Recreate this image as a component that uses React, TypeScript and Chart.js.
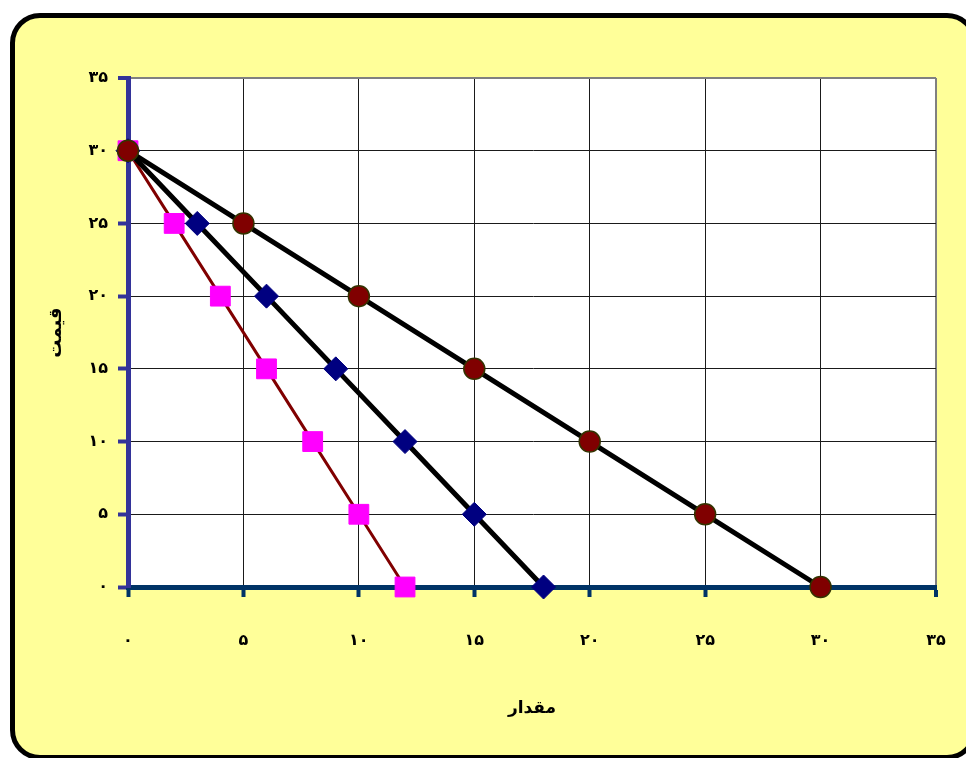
import React, { useEffect, useRef } from 'react';
import { Chart, registerables } from 'chart.js';

Chart.register(...registerables);

const circleX = [0, 5, 10, 15, 20, 25, 30];
const circleY = [30, 25, 20, 15, 10, 5, 0];
const diamondX = [0, 3, 6, 9, 12, 15, 18];
const diamondY = [30, 25, 20, 15, 10, 5, 0];
const squareX = [0, 2, 4, 6, 8, 10, 12];
const squareY = [30, 25, 20, 15, 10, 5, 0];
const axisMin = 0;
const axisMax = 35;
const axisStep = 5;
const xTitle = 'مقدار';
const yTitle = 'قیمت';

const faDigits = '۰۱۲۳۴۵۶۷۸۹';
const toFa = (n: number | string) => String(n).replace(/\d/g, (d) => faDigits[+d]);

const pts = (xs: number[], ys: number[]) => xs.map((x, i) => ({ x, y: ys[i] }));

const FONT = "'DejaVu Sans', sans-serif";

const plotBg = {
  id: 'plotBg',
  beforeDraw(chart: any) {
    const { ctx, chartArea: a } = chart;
    ctx.save();
    ctx.fillStyle = '#ffffff';
    ctx.fillRect(a.left, a.top, a.right - a.left, a.bottom - a.top);
    ctx.restore();
  },
};

export default function App() {
  const ref = useRef<HTMLCanvasElement | null>(null);
  useEffect(() => {
    if (!ref.current) return;
    const gridColor = (c: any) => (c.tick && c.tick.value === axisMax ? '#808080' : '#1a1a1a');
    const gridWidth = (c: any) => (c.tick && c.tick.value === axisMax ? 2 : 1);
    const chart = new Chart(ref.current, {
      type: 'scatter',
      data: {
        datasets: [
          {
            data: pts(circleX, circleY),
            showLine: true,
            borderColor: '#000000',
            borderWidth: 5,
            pointStyle: 'circle',
            pointRadius: 10.5,
            pointBackgroundColor: '#800000',
            pointBorderColor: '#333300',
            pointBorderWidth: 1.5,
            clip: false,
          },
          {
            data: pts(diamondX, diamondY),
            showLine: true,
            borderColor: '#000000',
            borderWidth: 5,
            pointStyle: 'rectRot',
            pointRadius: 12,
            pointBackgroundColor: '#000080',
            pointBorderColor: '#000080',
            pointBorderWidth: 1,
            clip: false,
          },
          {
            data: pts(squareX, squareY),
            showLine: true,
            borderColor: '#800000',
            borderWidth: 3,
            pointStyle: 'rect',
            pointRadius: 14,
            pointBackgroundColor: '#FF00FF',
            pointBorderColor: '#FF00FF',
            pointBorderWidth: 1,
            clip: false,
          },
        ],
      } as any,
      options: {
        animation: false,
        responsive: false,
        maintainAspectRatio: false,
        layout: { padding: { left: 0, top: 78, right: 30, bottom: 0 } },
        plugins: {
          legend: { display: false },
          tooltip: { enabled: false },
          title: { display: false },
        },
        scales: {
          x: {
            type: 'linear',
            min: axisMin,
            max: axisMax,
            ticks: {
              stepSize: axisStep,
              color: '#000',
              font: { family: FONT, size: 16, weight: 'bold' },
              padding: 34,
              callback: (v: any) => toFa(v),
            },
            grid: {
              color: gridColor,
              lineWidth: gridWidth,
              tickLength: 10,
              tickColor: '#003366',
              tickWidth: 4,
            },
            border: { color: '#003366', width: 5 },
            title: {
              display: true,
              text: xTitle,
              color: '#000',
              font: { family: FONT, size: 17, weight: 'bold' },
              padding: { top: 0, bottom: 39 },
            },
            afterFit: (s: any) => {
              s.height = 171;
              s.paddingLeft = 0;
              s.paddingRight = 0;
            },
          },
          y: {
            type: 'linear',
            min: axisMin,
            max: axisMax,
            ticks: {
              stepSize: axisStep,
              color: '#000',
              font: { family: FONT, size: 16, weight: 'bold' },
              padding: 10,
              callback: (v: any) => toFa(v),
            },
            grid: {
              color: gridColor,
              lineWidth: gridWidth,
              tickLength: 10,
              tickColor: '#333399',
              tickWidth: 4,
            },
            border: { color: '#333399', width: 5 },
            title: {
              display: true,
              text: yTitle,
              color: '#000',
              font: { family: FONT, size: 18, weight: 'bold' },
              padding: { top: 46, bottom: 0 },
            },
            afterFit: (s: any) => {
              s.width = 128;
              s.paddingTop = 0;
              s.paddingBottom = 0;
            },
          },
        },
      } as any,
      plugins: [plotBg],
    });
    return () => chart.destroy();
  }, []);

  return (
    <div
      style={{
        position: 'fixed',
        left: 0,
        top: 0,
        width: 966,
        height: 758,
        overflow: 'hidden',
        background: '#ffffff',
      }}
    >
      <div
        style={{
          position: 'absolute',
          left: 10,
          top: 13,
          width: 967,
          height: 747,
          boxSizing: 'border-box',
          border: '5px solid #000',
          borderRadius: 30,
          background: '#FFFF99',
        }}
      />
      <canvas
        ref={ref}
        width={966}
        height={758}
        style={{ position: 'absolute', left: 0, top: 0, width: 966, height: 758 }}
      />
    </div>
  );
}
